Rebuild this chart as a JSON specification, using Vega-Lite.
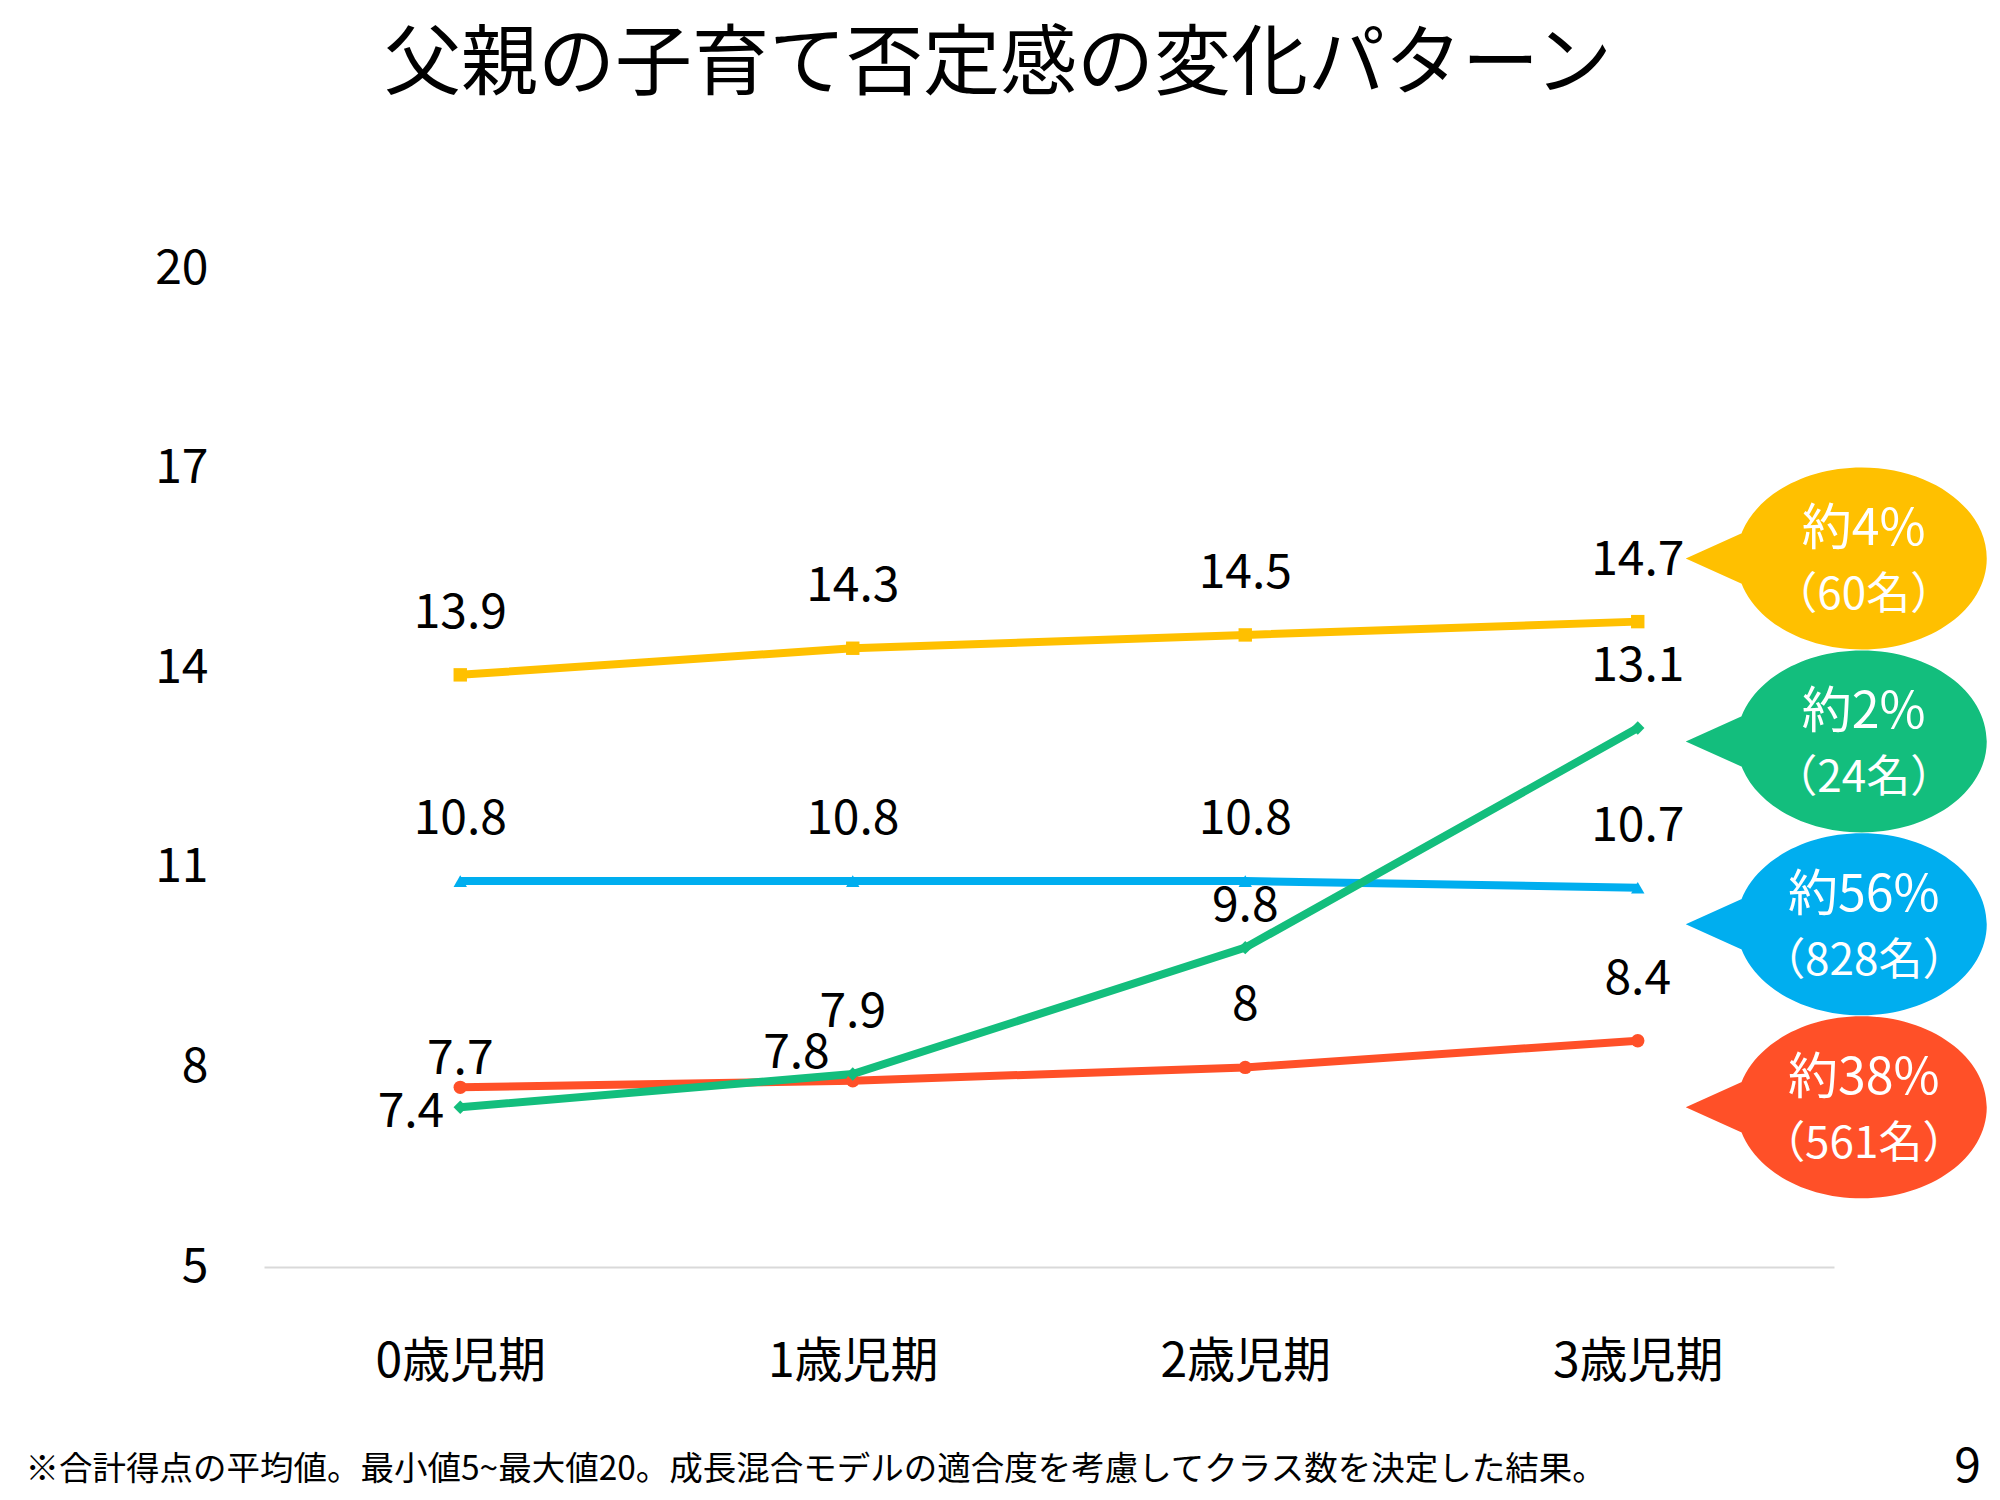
{
  "$schema": "https://vega.github.io/schema/vega-lite/v6.json",
  "width": 1570,
  "height": 998,
  "autosize": {"type": "none"},
  "padding": {"left": 264, "top": 269, "right": 166, "bottom": 233},
  "background": "white",
  "config": {"view": {"stroke": null}, "font": "Noto Sans CJK JP"},
  "title": {
    "text": "父親の子育て否定感の変化パターン",
    "fontSize": 77,
    "fontWeight": "normal",
    "color": "black",
    "anchor": "middle",
    "frame": "group",
    "baseline": "middle",
    "dx": -51,
    "offset": 102
  },
  "datasets": {
    "scores": [
      {"group": "38%", "period": "0歳児期", "value": 7.7},
      {"group": "38%", "period": "1歳児期", "value": 7.8},
      {"group": "38%", "period": "2歳児期", "value": 8},
      {"group": "38%", "period": "3歳児期", "value": 8.4},
      {"group": "56%", "period": "0歳児期", "value": 10.8},
      {"group": "56%", "period": "1歳児期", "value": 10.8},
      {"group": "56%", "period": "2歳児期", "value": 10.8},
      {"group": "56%", "period": "3歳児期", "value": 10.7},
      {"group": "4%", "period": "0歳児期", "value": 13.9},
      {"group": "4%", "period": "1歳児期", "value": 14.3},
      {"group": "4%", "period": "2歳児期", "value": 14.5},
      {"group": "4%", "period": "3歳児期", "value": 14.7},
      {"group": "2%", "period": "0歳児期", "value": 7.4},
      {"group": "2%", "period": "1歳児期", "value": 7.9},
      {"group": "2%", "period": "2歳児期", "value": 9.8},
      {"group": "2%", "period": "3歳児期", "value": 13.1}
    ],
    "bubbles": [
      {"group": "4%", "period": "3歳児期", "pos": 15.65, "pct": "約4%", "n": "（60名）"},
      {"group": "2%", "period": "3歳児期", "pos": 12.9, "pct": "約2%", "n": "（24名）"},
      {"group": "56%", "period": "3歳児期", "pos": 10.15, "pct": "約56%", "n": "（828名）"},
      {"group": "38%", "period": "3歳児期", "pos": 7.4, "pct": "約38%", "n": "（561名）"}
    ]
  },
  "encoding": {
    "x": {
      "field": "period",
      "type": "nominal",
      "sort": ["0歳児期", "1歳児期", "2歳児期", "3歳児期"],
      "scale": {"type": "point", "padding": 0.5},
      "axis": {
        "title": "※合計得点の平均値。最小値5~最大値20。成長混合モデルの適合度を考慮してクラス数を決定した結果。",
        "titleX": -239,
        "titleY": 202,
        "titleAlign": "left",
        "titleBaseline": "middle",
        "titleFontSize": 33.5,
        "titleFontWeight": "normal",
        "titleColor": "black",
        "domainColor": "#d9d9d9",
        "domainWidth": 2,
        "ticks": false,
        "tickSize": 0,
        "grid": false,
        "labelAngle": 0,
        "labelFontSize": 48,
        "labelColor": "black",
        "labelBaseline": "middle",
        "labelPadding": 95
      }
    },
    "y": {
      "field": "value",
      "type": "quantitative",
      "scale": {"domain": [5, 20], "nice": false, "zero": false},
      "axis": {
        "title": "9",
        "titleAngle": 0,
        "titleX": 1703,
        "titleY": 1198,
        "titleAlign": "center",
        "titleBaseline": "middle",
        "titleFontSize": 48,
        "titleFontWeight": "normal",
        "titleColor": "black",
        "values": [5, 8, 11, 14, 17, 20],
        "domain": false,
        "ticks": false,
        "tickSize": 0,
        "grid": false,
        "labelFontSize": 48,
        "labelColor": "black",
        "labelPadding": 56
      }
    },
    "color": {
      "field": "group",
      "type": "nominal",
      "scale": {
        "domain": ["38%", "56%", "4%", "2%"],
        "range": ["#FF5028", "#00AEEF", "#FFC000", "#13BE7D"]
      },
      "legend": null
    }
  },
  "layer": [
    {
      "data": {"name": "scores"},
      "mark": {"type": "line", "strokeWidth": 8}
    },
    {
      "data": {"name": "scores"},
      "mark": {"type": "point", "filled": true, "opacity": 1, "size": 180},
      "encoding": {
        "shape": {
          "field": "group",
          "type": "nominal",
          "scale": {
            "domain": ["38%", "56%", "4%", "2%"],
            "range": ["circle", "triangle-up", "square", "diamond"]
          },
          "legend": null
        }
      }
    },
    {
      "data": {"name": "scores"},
      "transform": [
        {"filter": "!((datum.group == '38%' && (datum.period == '0歳児期' || datum.period == '1歳児期')) || (datum.group == '2%' && (datum.period == '0歳児期' || datum.period == '2歳児期')))"}
      ],
      "mark": {"type": "text", "fontSize": 48, "baseline": "middle", "dy": -61},
      "encoding": {"text": {"field": "value", "type": "nominal"}, "color": {"value": "black"}}
    },
    {
      "data": {"name": "scores"},
      "transform": [{"filter": "datum.group == '38%' && datum.period == '0歳児期'"}],
      "mark": {"type": "text", "fontSize": 48, "baseline": "middle", "dy": -27},
      "encoding": {"text": {"field": "value", "type": "nominal"}, "color": {"value": "black"}}
    },
    {
      "data": {"name": "scores"},
      "transform": [{"filter": "datum.group == '38%' && datum.period == '1歳児期'"}],
      "mark": {"type": "text", "fontSize": 48, "baseline": "middle", "align": "right", "dx": -23, "dy": -27},
      "encoding": {"text": {"field": "value", "type": "nominal"}, "color": {"value": "black"}}
    },
    {
      "data": {"name": "scores"},
      "transform": [{"filter": "datum.group == '2%' && datum.period == '0歳児期'"}],
      "mark": {"type": "text", "fontSize": 48, "baseline": "middle", "align": "right", "dx": -16, "dy": 6},
      "encoding": {"text": {"field": "value", "type": "nominal"}, "color": {"value": "black"}}
    },
    {
      "data": {"name": "scores"},
      "transform": [{"filter": "datum.group == '2%' && datum.period == '2歳児期'"}],
      "mark": {"type": "text", "fontSize": 48, "baseline": "middle", "dy": -41},
      "encoding": {"text": {"field": "value", "type": "nominal"}, "color": {"value": "black"}}
    },
    {
      "data": {"name": "bubbles"},
      "mark": {
        "type": "point",
        "filled": true,
        "opacity": 1,
        "size": 4,
        "shape": "M99,0 C99,-50.3 155,-91 224,-91 C293,-91 349,-50.3 349,0 C349,50.3 293,91 224,91 C155,91 99,50.3 99,0 Z M48,0 L130,-37 L130,37 Z"
      },
      "encoding": {"y": {"field": "pos", "type": "quantitative"}}
    },
    {
      "data": {"name": "bubbles"},
      "mark": {"type": "text", "fontSize": 50, "baseline": "middle", "dx": 226, "dy": -28},
      "encoding": {
        "y": {"field": "pos", "type": "quantitative"},
        "text": {"field": "pct"},
        "color": {"value": "white"}
      }
    },
    {
      "data": {"name": "bubbles"},
      "mark": {"type": "text", "fontSize": 44, "baseline": "middle", "dx": 226, "dy": 38},
      "encoding": {
        "y": {"field": "pos", "type": "quantitative"},
        "text": {"field": "n"},
        "color": {"value": "white"}
      }
    }
  ]
}
